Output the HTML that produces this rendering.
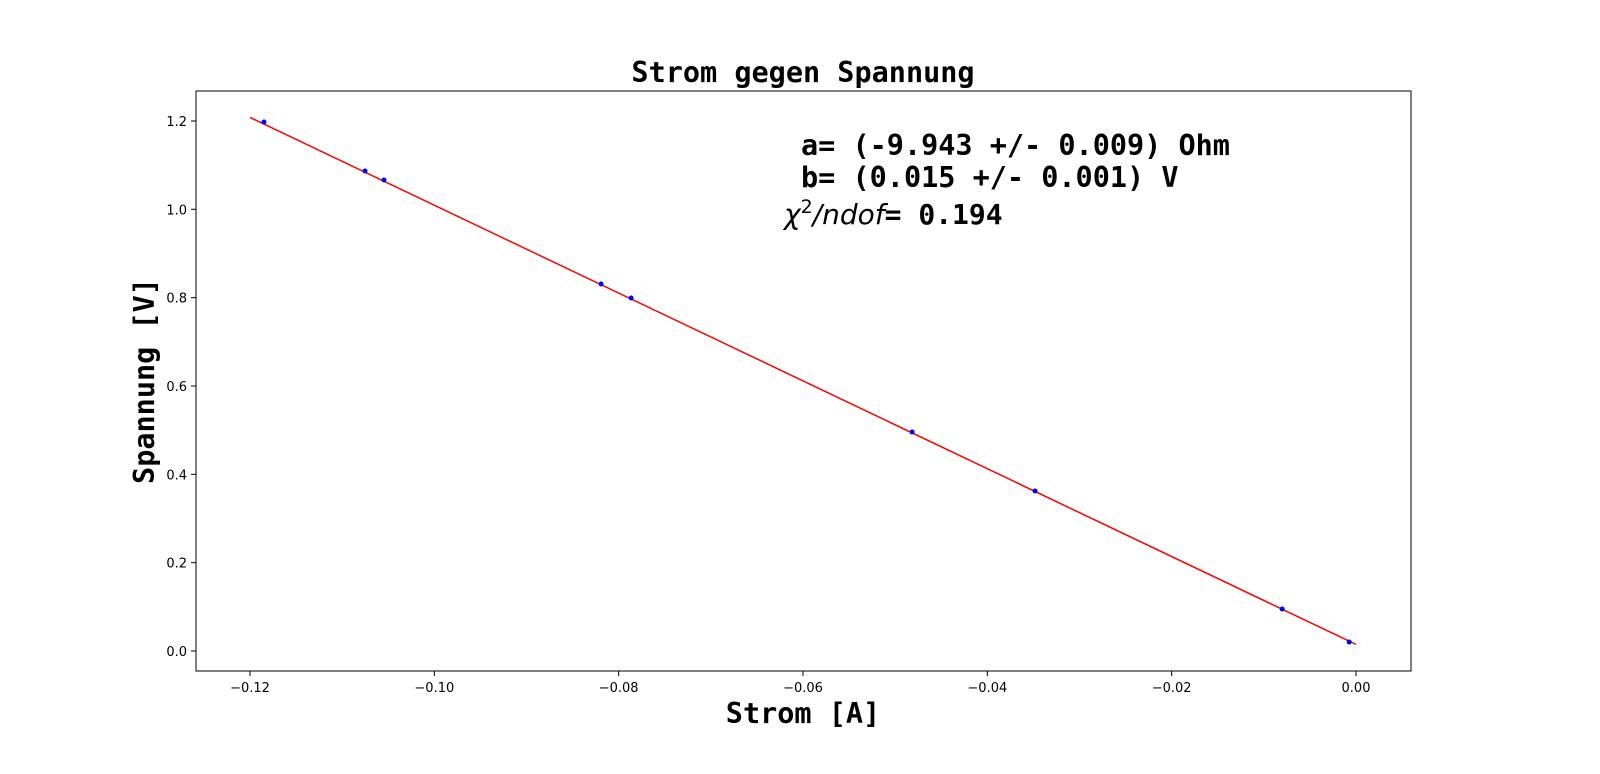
<!DOCTYPE html>
<html><head><meta charset="utf-8"><style>
body{margin:0;background:#fff;}
svg text{font-family:"DejaVu Sans",sans-serif;}
.mono{font-family:"DejaVu Sans Mono","Liberation Mono",monospace;font-weight:bold;}
</style></head><body>
<svg id="chart" width="1600" height="769" xmlns="http://www.w3.org/2000/svg">
<rect width="1600" height="769" fill="#fff"/>
<g id="plot"></g>
<text class="mono" x="803" y="82" font-size="28.5" text-anchor="middle">Strom gegen Spannung</text>
<text class="mono" x="803" y="723" font-size="28.5" text-anchor="middle">Strom [A]</text>
<text class="mono" transform="translate(154,381) rotate(-90)" font-size="28.5" text-anchor="middle">Spannung [V]</text>
<text class="mono" x="801" y="155" font-size="28.5">a= (-9.943 +/- 0.009) Ohm</text>
<text class="mono" x="801" y="187" font-size="28.5">b= (0.015 +/- 0.001) V</text>
<text x="784" y="224" font-size="28"><tspan font-style="italic">χ</tspan><tspan font-size="19" dy="-11">2</tspan><tspan dy="11" font-style="italic">/ndof</tspan><tspan class="mono">= 0.194</tspan></text>
</svg>
<script>
const xData=[-0.11848,-0.10752,-0.10546,-0.08191,-0.07865,-0.04816,-0.03482,-0.00801,-0.00074];
const yData=[1.1977,1.0868,1.0664,0.8309,0.7992,0.4958,0.3623,0.0951,0.0204];
const fitA=-9.943, fitB=0.015;
const fitRange=[-0.12,0.0];
const xTicks=[-0.12,-0.10,-0.08,-0.06,-0.04,-0.02,0.00];
const xTickLabels=["−0.12","−0.10","−0.08","−0.06","−0.04","−0.02","0.00"];
const yTicks=[0.0,0.2,0.4,0.6,0.8,1.0,1.2];
const yTickLabels=["0.0","0.2","0.4","0.6","0.8","1.0","1.2"];
const L=196,R=1411,T=91,B=671;
const sx=v=>250+(v+0.12)/0.12*1106;
const sy=v=>651-v/1.2*530;
const ns="http://www.w3.org/2000/svg";
const g=document.getElementById('plot');
function mk(t,a){const e=document.createElementNS(ns,t);for(const k in a)e.setAttribute(k,a[k]);g.appendChild(e);return e;}
xTicks.forEach((v,i)=>{
 const l=mk('line',{x1:sx(v),x2:sx(v),y1:B,y2:B+5,stroke:'#000'});
 
 
 const t=mk('text',{x:sx(v),y:B+21,'font-size':13,'text-anchor':'middle'});t.textContent=xTickLabels[i];
 
 
});
yTicks.forEach((v,i)=>{
 const l=mk('line',{x1:L-5,x2:L,y1:sy(v),y2:sy(v),stroke:'#000'});
 
 
 const t=mk('text',{x:L-9,y:sy(v)+5,'font-size':13,'text-anchor':'end'});t.textContent=yTickLabels[i];
 
 
});
const fl=mk('line',{x1:sx(fitRange[0]),y1:sy(fitA*fitRange[0]+fitB),x2:sx(fitRange[1]),y2:sy(fitA*fitRange[1]+fitB),stroke:'#ff0000','stroke-width':1.5});


xData.forEach((v,i)=>{
 const c=mk('circle',{cx:sx(v),cy:sy(yData[i]),r:2.5,fill:'#0000ff'});
 
 
});
const fr=mk('rect',{x:L,y:T,width:R-L,height:B-T,fill:'none',stroke:'#000','stroke-width':1});


</script>
</body></html>
